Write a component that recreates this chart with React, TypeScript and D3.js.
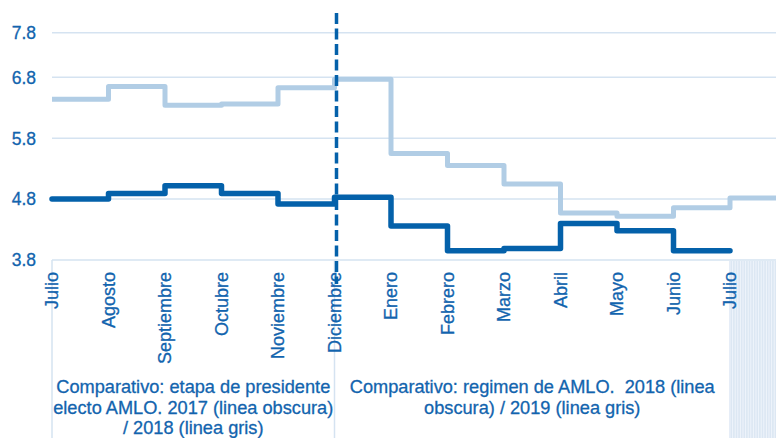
import React from "react";
import * as d3 from "d3";

const months = ["Julio","Agosto","Septiembre","Octubre","Noviembre","Diciembre","Enero","Febrero","Marzo","Abril","Mayo","Junio","Julio"];
const darkValues = [4.80, 4.89, 5.02, 4.89, 4.72, 4.83, 4.36, 3.95, 3.99, 4.40, 4.28, 3.95];
const lightValues = [6.44, 6.65, 6.34, 6.36, 6.63, 6.77, 5.55, 5.35, 5.05, 4.57, 4.52, 4.66, 4.82];
const yTicks = [3.8, 4.8, 5.8, 6.8, 7.8];
const groupLabels = [
  { from: 0, to: 5, lines: ["Comparativo: etapa de presidente", "electo AMLO. 2017 (linea obscura)", "/ 2018 (linea gris)"] },
  { from: 5, to: 12, lines: ["Comparativo: regimen de AMLO.  2018 (linea", "obscura) / 2019 (linea gris)"] },
];
const dividerIndex = 5;

const W = 776, H = 438;
const DARK = "#0461AA";
const LIGHT = "#B1CDE5";
const TEXT = "#1264AE";
const GRID = "#D5E3F1";
const FONT = "'Liberation Sans', Arial, Helvetica, sans-serif";

export default function App() {
  const x = d3.scaleLinear().domain([0, 12]).range([52, 730]);
  const y = d3.scaleLinear().domain([3.8, 6.8, 7.8]).range([260, 77.3, 32.7]);
  const plotRight = W;

  const darkPts: [number, number][] = darkValues.map((v, i) => [x(i), y(v)]);
  darkPts.push([x(darkValues.length), y(darkValues[darkValues.length - 1])]);
  const lightPts: [number, number][] = lightValues.map((v, i) => [x(i), y(v)]);
  lightPts.push([plotRight, y(lightValues[lightValues.length - 1])]);

  const line = d3.line<[number, number]>().x(d => d[0]).y(d => d[1]).curve(d3.curveStepAfter);

  const stripeX0 = x(12) - 1;
  const stripes = d3.range(stripeX0 + 1, W, 2.6);
  const textStroke = { stroke: TEXT, strokeWidth: 0.3 };

  return (
    <svg width={W} height={H} style={{ position: "absolute", left: 0, top: 0, background: "#fff" }} fontFamily={FONT}>
      {yTicks.map(t => (
        <line key={t} x1={52} x2={plotRight} y1={y(t)} y2={y(t)} stroke={GRID} strokeWidth={1.5} />
      ))}
      {yTicks.map(t => (
        <text key={"l" + t} x={36} y={y(t)} dy="0.36em" textAnchor="end" fontSize={17.5} fill={TEXT} {...textStroke}>{t.toFixed(1)}</text>
      ))}
      <line x1={52} x2={52} y1={260} y2={H} stroke={GRID} strokeWidth={1.5} />
      <line x1={x(dividerIndex)} x2={x(dividerIndex)} y1={260} y2={H} stroke={GRID} strokeWidth={1.5} />
      <rect x={stripeX0} y={261} width={W - stripeX0} height={H - 261} fill="#DCE7F3" />
      {stripes.map((sx, i) => (
        <line key={"s" + i} x1={sx} x2={sx} y1={261} y2={H} stroke="#F4F8FC" strokeWidth={0.8} />
      ))}
      <path d={line(lightPts) || ""} fill="none" stroke={LIGHT} strokeWidth={5} strokeLinejoin="round" strokeLinecap="butt" />
      <path d={line(darkPts) || ""} fill="none" stroke={DARK} strokeWidth={5.5} strokeLinejoin="round" strokeLinecap="round" />
      {months.map((m, i) => (
        <text key={"m" + i} transform={`translate(${x(i)},272) rotate(-90)`} textAnchor="end" dy="0.36em" fontSize={18} fill={TEXT} {...textStroke}>{m}</text>
      ))}
      <line x1={x(dividerIndex) + 2} x2={x(dividerIndex) + 2} y1={13} y2={284} stroke={DARK} strokeWidth={3.5} strokeDasharray="11 4.5" />
      {groupLabels.map((g, gi) => {
        const cx = (x(g.from) + x(g.to)) / 2;
        return (
          <text key={"g" + gi} textAnchor="middle" fontSize={18.2} fill={TEXT} {...textStroke}>
            {g.lines.map((ln, li) => (
              <tspan key={li} x={cx} y={393 + li * 20.5} style={{ whiteSpace: "pre" }}>{ln}</tspan>
            ))}
          </text>
        );
      })}
    </svg>
  );
}
